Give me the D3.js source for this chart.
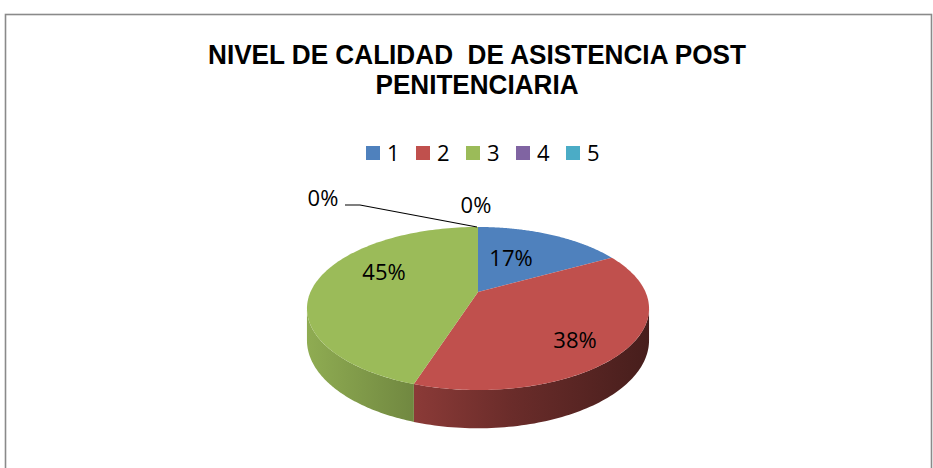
<!DOCTYPE html>
<html><head><meta charset="utf-8">
<script src="https://cdn.jsdelivr.net/npm/d3@7"></script>
<style>html,body{margin:0;padding:0;background:#fff;}svg{display:block;}</style>
</head><body>
<svg id="c" width="933" height="468"></svg>
<script>
const titleLines = ["NIVEL DE CALIDAD\u00A0 DE ASISTENCIA POST", "PENITENCIARIA"];
const categories = ["1", "2", "3", "4", "5"];
const values = [17, 38, 45, 0, 0];
const labels = ["17%", "38%", "45%", "0%", "0%"];
const colors = ["#4F81BD", "#C0504D", "#9BBB59", "#8064A2", "#4BACC6"];

const svg = d3.select("#c");
const W = 933, H = 468;

// frame
svg.append("rect").attr("x", 5.5).attr("y", 14.5).attr("width", 926).attr("height", 520)
  .attr("fill", "#fff").attr("stroke", "#8a8a8a").attr("stroke-width", 1.6);

// title
const titleFont = "'Liberation Sans Narrow','Arial Narrow','Liberation Sans',Arial,sans-serif";
const tw = [538, 203], ty = [63.5, 93.5];
titleLines.forEach((t, i) => {
  svg.append("text").attr("x", 477).attr("y", ty[i]).attr("text-anchor", "middle")
    .attr("font-family", titleFont).attr("font-weight", "bold").attr("font-size", 27)
    .attr("textLength", tw[i]).attr("lengthAdjust", "spacingAndGlyphs")
    .attr("fill", "#000").text(t);
});

// legend
const lx = d3.scaleBand().domain(categories).range([366, 616]);
const leg = svg.append("g");
categories.forEach((c, i) => {
  leg.append("rect").attr("x", lx(c)).attr("y", 146).attr("width", 14).attr("height", 14).attr("fill", colors[i]);
  leg.append("text").attr("x", lx(c) + 21).attr("y", 160.5).attr("font-family", "'Open Sans',Lato,sans-serif")
    .attr("font-size", 22).attr("fill", "#000").text(c);
});

// 3D pie with perspective
const cx = 478, cy = 292, Rx = 167.5, Ry = 78.2, P = 0.2025, D0 = 30.5;
const pie = d3.pie().sort(null).value(d => d).startAngle(0).endAngle(2 * Math.PI);
const arcs = pie(values);
function proj(theta, r) {
  const u = r * Math.sin(theta), v = -r * Math.cos(theta);
  const s = 1 / (1 - P * v);
  return [cx + Rx * u * s, cy + Ry * v * s, s];
}
const line = d3.line();

// gradients for sides
const defs = svg.append("defs");
colors.forEach((col, i) => {
  const g = defs.append("linearGradient").attr("id", "side" + i).attr("gradientUnits", "userSpaceOnUse")
    .attr("x1", cx - 171).attr("x2", cx + 171).attr("y1", 0).attr("y2", 0);
  const c = d3.rgb(col);
  const stops = [[0, 0.92], [0.32, 0.72], [0.6, 0.55], [1, 0.37]];
  stops.forEach(([o, f]) => {
    g.append("stop").attr("offset", o).attr("stop-color", d3.rgb(c.r * f, c.g * f, c.b * f).formatHex());
  });
});

const thL = Math.acos(-P), thR = 2 * Math.PI - Math.acos(-P);
const sides = svg.append("g");
arcs.forEach((a, i) => {
  const a0 = Math.max(a.startAngle, thL), a1 = Math.min(a.endAngle, thR);
  if (a1 <= a0) return;
  const n = 80, top = [], bot = [];
  for (let k = 0; k <= n; k++) {
    const t = a0 + (a1 - a0) * k / n;
    const [x, y, s] = proj(t, 1);
    top.push([x, y]); bot.push([x, y + D0 * s]);
  }
  sides.append("path").attr("d", line(top.concat(bot.reverse())) + "Z").attr("fill", `url(#side${i})`);
});

const tops = svg.append("g");
arcs.forEach((a, i) => {
  if (a.endAngle - a.startAngle <= 0) return;
  const n = 120, pts = [[cx, cy]];
  for (let k = 0; k <= n; k++) {
    const t = a.startAngle + (a.endAngle - a.startAngle) * k / n;
    const [x, y] = proj(t, 1);
    pts.push([x, y]);
  }
  tops.append("path").attr("d", line(pts) + "Z").attr("fill", colors[i]);
});

// data labels
const lblPos = [[511, 266], [575, 348], [384, 280], [476, 213], [323, 206]];
const lf = "'Open Sans',Lato,sans-serif";
labels.forEach((t, i) => {
  svg.append("text").attr("x", lblPos[i][0]).attr("y", lblPos[i][1]).attr("text-anchor", "middle")
    .attr("font-family", lf).attr("font-size", 22).attr("fill", "#000").text(t);
});
// leader line for the hidden "5" slice
const p0 = proj(arcs[4].startAngle, 1);
svg.append("path").attr("d", line([[345, 205], [360, 205], [p0[0] - 1, p0[1]]]))
  .attr("fill", "none").attr("stroke", "#000").attr("stroke-width", 1.2);
</script>
</body></html>
